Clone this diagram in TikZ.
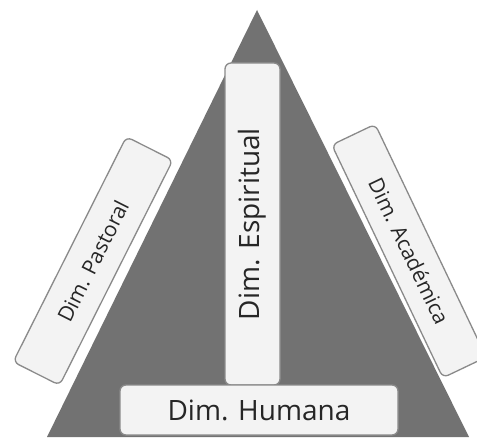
\documentclass[tikz,border=0pt]{standalone}
\usepackage{fontspec}
\setmainfont{Open Sans}
\definecolor{tri}{HTML}{727272}
\definecolor{boxfill}{HTML}{F3F3F3}
\definecolor{boxline}{HTML}{8A8A8A}
\tikzset{
  dimbox/.style={draw=boxline, line width=1.3pt, fill=boxfill, rounded corners=6pt,
    inner sep=0pt, text=black!85},
  bigtext/.style={font=\fontsize{28}{30}\selectfont},
  smalltext/.style={font=\fontsize{21}{23}\selectfont}
}
\begin{document}
\begin{tikzpicture}[x=1pt,y=1pt]
\useasboundingbox (0,0) rectangle (477,437);
\fill[white] (0,0) rectangle (477,437);
\fill[tri] (257,427) -- (469,0) -- (47,0) -- cycle;
\node[dimbox, smalltext, rotate=63.3, minimum width=252, minimum height=52] (past) at (93,176) {Dim. Pastoral};
\node[dimbox, smalltext, rotate=-64.5, minimum width=258, minimum height=48] (acad) at (409,186) {Dim. Académica};
\node[dimbox, bigtext, rotate=90, minimum width=322, minimum height=55] (esp) at (252.5,213) {Dim. Espiritual};
\node[dimbox, bigtext, minimum width=278, minimum height=50] (hum) at (259,27) {Dim. Humana};
\end{tikzpicture}
\end{document}
